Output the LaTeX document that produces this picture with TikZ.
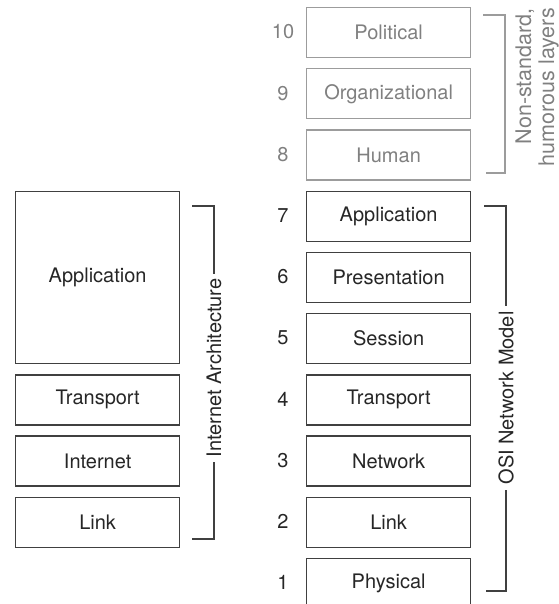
\documentclass[tikz,border=0pt]{standalone}
\usepackage{fontspec}
\setmainfont{TeX Gyre Heros}
\definecolor{boxline}{HTML}{404040}
\definecolor{txt}{HTML}{262626}
\definecolor{grayline}{HTML}{9C9C9C}
\definecolor{graytxt}{HTML}{808080}
\begin{document}
\begin{tikzpicture}[x=1pt,y=-1pt,
  layer/.style={draw=boxline, line width=1.3pt, text=txt, minimum width=164pt,
    minimum height=50pt, inner sep=0pt, anchor=north west,
    font=\fontsize{20}{22}\selectfont},
  funlayer/.style={layer, draw=grayline, text=graytxt},
  num/.style={text=txt, font=\fontsize{20}{22}\selectfont, inner sep=0pt},
  funnum/.style={num, text=graytxt},
  brk/.style={draw=boxline, line width=1.3pt},
  funbrk/.style={draw=grayline, line width=1.3pt},
  brklabel/.style={fill=white, rotate=90, inner xsep=5pt, inner ysep=2pt, text=txt,
    font=\fontsize{20}{22}\selectfont}]
\useasboundingbox (0,0) rectangle (558,604);

% right column (OSI + humorous)
\node[funlayer] (pol) at (306,7.0) {Political};
\node[funlayer] (org) at (306,68.2) {Organizational};
\node[funlayer] (hum) at (306,129.4) {Human};
\node[layer] (app) at (306,190.6) {Application};
\node[layer] (pre) at (306,251.8) {Presentation};
\node[layer] (ses) at (306,313.0) {Session};
\node[layer] (tra) at (306,374.2) {Transport};
\node[layer] (net) at (306,435.4) {Network};
\node[layer] (lnk) at (306,496.6) {Link};
\node[layer] (phy) at (306,557.8) {Physical};

% numbers
\node[funnum] (n10) at (283,32.0) {10};
\node[funnum] (n9) at (283,93.2) {9};
\node[funnum] (n8) at (283,154.4) {8};
\node[num] (n7) at (283,215.6) {7};
\node[num] (n6) at (283,276.8) {6};
\node[num] (n5) at (283,338.0) {5};
\node[num] (n4) at (283,399.2) {4};
\node[num] (n3) at (283,460.4) {3};
\node[num] (n2) at (283,521.6) {2};
\node[num] (n1) at (283,582.8) {1};

% left column (Internet architecture)
\node[layer, minimum height=172.4pt] (iapp) at (15,190.6) {Application};
\node[layer] (itra) at (15,374.2) {Transport};
\node[layer] (inet) at (15,435.4) {Internet};
\node[layer] (ilnk) at (15,496.6) {Link};

% Internet Architecture bracket
\coordinate (ia1) at (192,206);
\coordinate (ia2) at (214,206);
\coordinate (ia3) at (214,539);
\coordinate (ia4) at (192,539);
\draw[brk] (ia1) -- (ia2) -- (ia3) -- (ia4);
\node[brklabel] (ialabel) at (214,368) {Internet Architecture};

% OSI bracket
\coordinate (o1) at (484,206);
\coordinate (o2) at (506,206);
\coordinate (o3) at (506,591);
\coordinate (o4) at (486,591);
\draw[brk] (o1) -- (o2) -- (o3) -- (o4);
\node[brklabel] (olabel) at (506,398) {OSI Network Model};

% humorous bracket
\coordinate (h1) at (483,15);
\coordinate (h2) at (505,15);
\coordinate (h3) at (505,173);
\coordinate (h4) at (486,173);
\draw[funbrk] (h1) -- (h2) -- (h3) -- (h4);
\node[rotate=90, anchor=east, align=right, inner sep=0pt, text=graytxt,
  font=\fontsize{21.5}{23}\selectfont] (hlabel) at (537,8) {Non-standard,\\humorous layers};
\end{tikzpicture}
\end{document}
